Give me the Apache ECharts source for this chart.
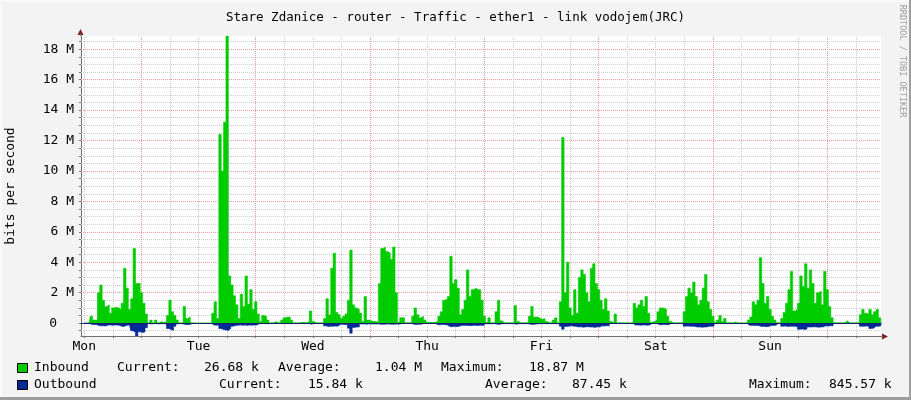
<!DOCTYPE html>
<html><head><meta charset="utf-8">
<script src="https://cdn.jsdelivr.net/npm/echarts@6/dist/echarts.min.js"></script>
<style>html,body{margin:0;padding:0;background:#f3f3f3}#c{width:911px;height:400px}</style>
</head><body><div id="c"></div>
<script>
// ---- data (30-minute steps, Mbit/s) ----
const days = ['Mon','Tue','Wed','Thu','Fri','Sat','Sun'];
const inMon = [0,0,0,0.45,0.2,0.2,2.0,2.5,1.5,1.1,1.2,0.65,
 1.0,1.05,1.0,0.9,1.3,3.6,2.3,0.9,1.6,4.9,2.6,2.6,
 2.0,1.3,0.6,0.02,0.2,0.02,0.2,0.02,0.1,0.02,0.1,0.5,
 1.5,0.75,0.5,0.2,0.02,0.02,1.1,0.3,0.4,0.02,0.01,0.01];
const inTue = [0.01,0.01,0.01,0.01,0.01,0.01,0.65,1.4,0.3,12.4,10.0,13.2,
 18.87,3.1,2.5,1.8,1.2,0.3,1.9,1.1,3.1,1.25,2.2,0.9,
 1.4,0.6,0.1,0.5,0.45,0.2,0.02,0.02,0.1,0.02,0.02,0.2,
 0.35,0.4,0.4,0.2,0.02,0.02,0.02,0.05,0.05,0.02,0.1,0.8];
const inWed = [0.1,0.02,0.02,0.02,0.02,0.3,1.6,0.55,3.6,4.6,0.7,0.55,
 0.3,0.45,0.6,1.5,4.8,1.2,1.0,0.9,0.65,0.1,1.75,0.2,
 0.15,0.1,0.1,0.05,2.6,4.9,5.0,4.7,4.6,4.2,5.0,2.0,
 0.05,0.35,0.35,0.03,0.03,0.03,0.45,1.0,0.55,0.35,0.45,0.2];
const inThu = [0.05,0.05,0.05,0.05,0.1,0.45,0.75,1.5,1.6,1.75,4.4,2.6,
 2.85,2.3,0.55,0.9,1.5,3.5,1.75,2.2,2.3,2.2,2.2,1.5,
 0.45,0.05,0.35,0.03,0.03,0.75,1.5,0.15,0.03,0.03,0.03,0.03,
 0.03,1.15,0.1,0.03,0.03,0.03,0.03,0.45,1.1,0.4,0.4,0.3];
const inFri = [0.25,0.3,0.1,0.03,0.03,0.2,0.35,0.03,1.4,12.2,2.0,4.0,
 1.0,0.5,2.2,0.65,3.0,3.5,3.2,2.0,1.4,3.6,3.9,2.6,
 2.2,1.5,0.9,1.6,0.8,0.1,0.02,0.6,0.02,0.02,0.02,0.02,
 0.02,0.02,0.02,1.3,1.0,1.2,1.5,1.1,1.75,0.65,0.05,0.1];
const inSat = [0.2,0.75,1.0,1.0,0.9,0.45,0.1,0.02,0.02,0.02,0.02,0.02,
 0.75,1.75,2.3,2.0,2.7,1.75,1.2,1.5,2.3,3.2,1.4,0.9,
 0.45,0.05,0.2,0.5,0.1,0.3,0.03,0.03,0.03,0.08,0.02,0.02,
 0.02,0.02,0.02,0.2,0.4,1.4,1.2,1.5,4.3,2.6,1.3,1.75];
const inSun = [0.9,0.45,0.2,0.03,0.03,0.3,0.7,1.3,2.2,3.4,0.8,0.9,
 1.3,3.1,2.4,3.9,2.3,3.5,2.6,1.3,2.0,2.1,1.2,3.4,
 2.2,1.1,0.35,0.02,0.02,0.02,0.02,0.02,0.15,0.02,0.02,0.02,
 0.02,0.02,0.55,0.9,0.65,0.6,0.9,0.55,0.75,0.9,0.35,0.027];

const outMon = [0,0,0,0.08,0.1,0.09,0.15,0.18,0.17,0.19,0.13,0.12,
 0.14,0.12,0.13,0.15,0.22,0.2,0.14,0.12,0.5,0.62,0.8456,0.57,
 0.62,0.58,0.3,0.04,0.05,0.03,0.04,0.05,0.03,0.04,0.06,0.35,
 0.42,0.48,0.2,0.04,0.03,0.05,0.09,0.1,0.08,0.02,0.02,0.02];
const outTue = [0.02,0.02,0.02,0.02,0.02,0.03,0.12,0.14,0.13,0.35,0.42,0.45,
 0.48,0.36,0.2,0.16,0.14,0.12,0.14,0.13,0.15,0.12,0.14,0.12,
 0.13,0.04,0.03,0.03,0.04,0.03,0.02,0.02,0.03,0.02,0.02,0.03,
 0.04,0.03,0.03,0.03,0.02,0.02,0.02,0.03,0.03,0.02,0.03,0.07];
const outWed = [0.02,0.02,0.02,0.02,0.02,0.18,0.22,0.2,0.21,0.19,0.2,0.09,
 0.08,0.1,0.09,0.33,0.66,0.28,0.25,0.26,0.06,0.05,0.07,0.05,
 0.06,0.05,0.06,0.05,0.07,0.08,0.07,0.06,0.07,0.08,0.07,0.06,
 0.07,0.02,0.02,0.02,0.02,0.02,0.08,0.09,0.07,0.08,0.02,0.02];
const outThu = [0.02,0.02,0.02,0.02,0.1,0.11,0.09,0.1,0.12,0.22,0.24,0.21,
 0.23,0.2,0.15,0.14,0.16,0.15,0.17,0.14,0.15,0.16,0.14,0.15,
 0.04,0.04,0.05,0.03,0.04,0.08,0.08,0.04,0.03,0.04,0.03,0.04,
 0.04,0.08,0.04,0.03,0.04,0.03,0.04,0.08,0.09,0.07,0.04,0.04];
const outFri = [0.04,0.03,0.04,0.04,0.03,0.04,0.04,0.04,0.2,0.4,0.22,0.2,
 0.18,0.2,0.21,0.25,0.24,0.27,0.25,0.23,0.26,0.25,0.28,0.24,
 0.25,0.18,0.19,0.17,0.18,0.02,0.02,0.02,0.02,0.02,0.02,0.02,
 0.02,0.02,0.02,0.13,0.12,0.14,0.13,0.12,0.14,0.12,0.02,0.02];
const outSat = [0.02,0.1,0.11,0.09,0.1,0.1,0.02,0.02,0.02,0.02,0.02,0.02,
 0.2,0.19,0.21,0.2,0.22,0.26,0.25,0.27,0.26,0.25,0.2,0.21,
 0.19,0.03,0.03,0.03,0.03,0.03,0.03,0.03,0.03,0.03,0.03,0.03,
 0.03,0.03,0.03,0.15,0.14,0.16,0.15,0.17,0.22,0.21,0.23,0.22];
const outSun = [0.15,0.16,0.14,0.02,0.02,0.2,0.19,0.22,0.2,0.21,0.2,0.23,
 0.4,0.38,0.42,0.39,0.25,0.26,0.24,0.25,0.27,0.25,0.24,0.18,
 0.19,0.17,0.18,0.02,0.02,0.02,0.02,0.02,0.02,0.02,0.02,0.02,
 0.02,0.02,0.2,0.21,0.19,0.2,0.35,0.33,0.2,0.21,0.19,0.016];

const yLabelValuesM = [2,4,6,8,10,12,14,16,18];
const yZeroLabel = '0';
const yMaxM = 18.87, yMinM = -0.84557;
const titleText = 'Stare Zdanice - router - Traffic - ether1 - link vodojem(JRC)';
const yName = 'bits per second';
const sideText = 'RRDTOOL / TOBI OETIKER';
const legendIn = ['Inbound','Current:','26.68 k','Average:','1.04 M','Maximum:','18.87 M'];
const legendOut = ['Outbound','Current:','15.84 k','Average:','87.45 k','Maximum:','845.57 k'];

// ---- build ----
const FONT = "'DejaVu Sans Mono', monospace";
const inbound = [].concat(inMon,inTue,inWed,inThu,inFri,inSat,inSun);
const outbound = [].concat(outMon,outTue,outWed,outThu,outFri,outSat,outSun);
const inData = inbound.map((v,i)=>[i*0.5, v*1e6]);
const outData = outbound.map((v,i)=>[i*0.5, -v*1e6]);

const MINOR = '#cdcdcd', MAJOR = '#eb9a9a';
const gridLines = [];
for (let k=-1; k*0.5 < yMaxM; k++) {
  const v = k*0.5;
  if (v === 0) continue;
  const major = (k % 4 === 0);
  gridLines.push({yAxis: v*1e6, lineStyle:{color: major ? MAJOR : MINOR, type:[1,1], width:1}});
}
for (let h=0; h<167; h+=6) {
  const major = (h % 24 === 12);
  gridLines.push({xAxis: h, lineStyle:{color: major ? MAJOR : MINOR, type:[1,1], width:1}});
}
const yTickVals = [];
for (let k=-1; k*0.5 < yMaxM; k++) yTickVals.push(k*0.5e6);
const xTickVals = [];
for (let h=0; h<167; h+=6) xTickVals.push(h);

const chart = echarts.init(document.getElementById('c'), null, {renderer:'canvas'});

const legendX1 = [34,117,204,278,375,441,529];
const legendX2 = [34,219,308,485,572,749,829];
const gElems = [
  {type:'rect', shape:{x:0,y:0,width:911,height:2}, style:{fill:'#fafafa'}, z:100},
  {type:'rect', shape:{x:0,y:0,width:2,height:400}, style:{fill:'#fafafa'}, z:100},
  {type:'rect', shape:{x:909,y:0,width:2,height:400}, style:{fill:'#9e9e9e'}, z:100},
  {type:'rect', shape:{x:0,y:397,width:911,height:3}, style:{fill:'#9e9e9e'}, z:100},
  {type:'polygon', shape:{points:[[80.5,29],[77.5,35],[83.5,35]]}, style:{fill:'#801f1f'}, z:100},
  {type:'line', shape:{x1:80.5,y1:34,x2:80.5,y2:36}, style:{stroke:'#707070',lineWidth:1}, z:100},
  {type:'polygon', shape:{points:[[888,336.5],[882,333.5],[882,339.5]]}, style:{fill:'#801f1f'}, z:100},
  {type:'line', shape:{x1:881,y1:336.5,x2:883,y2:336.5}, style:{stroke:'#707070',lineWidth:1}, z:100},
  {type:'text', x:10.5, y:186, rotation:Math.PI/2, style:{text:yName, font:'13px '+FONT, fill:'#000', textAlign:'center', textVerticalAlign:'middle'}, z:100},
  {type:'text', x:902.5, y:61, rotation:-Math.PI/2, style:{text:sideText, font:'8.5px '+FONT, fill:'#a0a0a0', textAlign:'center', textVerticalAlign:'middle'}, z:100},
  {type:'rect', shape:{x:17.5,y:363.5,width:10,height:9}, style:{fill:'#00cc00', stroke:'#000', lineWidth:1}, z:100},
  {type:'rect', shape:{x:17.5,y:380.5,width:10,height:9}, style:{fill:'#002a97', stroke:'#000', lineWidth:1}, z:100}
];
legendIn.forEach((t,i)=>gElems.push({type:'text', x:legendX1[i], y:368, style:{text:t, font:'13px '+FONT, fill:'#000', textAlign:'left', textVerticalAlign:'middle'}, z:100}));
legendOut.forEach((t,i)=>gElems.push({type:'text', x:legendX2[i], y:385, style:{text:t, font:'13px '+FONT, fill:'#000', textAlign:'left', textVerticalAlign:'middle'}, z:100}));

chart.setOption({
  animation:false,
  backgroundColor:'#f3f3f3',
  title:{text:titleText, left:'center', top:6, textStyle:{fontFamily:FONT, fontSize:12.5, fontWeight:'normal', color:'#000'}},
  grid:{left:81, top:36, width:800, height:300, show:true, backgroundColor:'#ffffff', borderWidth:0},
  xAxis:{type:'value', min:-0.69, max:167.3,
    axisLine:{show:true, onZero:false, lineStyle:{color:'#707070', width:1}},
    axisTick:{show:true, customValues:xTickVals, length:2, lineStyle:{color:'#707070'}},
    axisLabel:{customValues:days.map((d,i)=>i*24), formatter:(v)=>days[Math.round(v/24)], fontFamily:FONT, fontSize:13, color:'#000', margin:4},
    splitLine:{show:false}},
  yAxis:{type:'value', min:yMinM*1e6, max:yMaxM*1e6,
    axisLine:{show:true, onZero:false, lineStyle:{color:'#707070', width:1}},
    axisTick:{show:true, customValues:yTickVals, length:2, lineStyle:{color:'#707070'}},
    axisLabel:{customValues:yLabelValuesM.map(v=>v*1e6),
      formatter:(v)=> Math.round(v/1e6)+' M',
      fontFamily:FONT, fontSize:13, color:'#000', margin:7},
    splitLine:{show:false}},
  graphic:{elements:gElems},
  series:[
    {type:'line', data:[[-0.69,0]], z:1, silent:true, showSymbol:false, lineStyle:{width:0, opacity:0},
      markLine:{silent:true, z:1, animation:false, symbol:['none','none'], label:{show:false}, data:gridLines}},
    {name:'Inbound', type:'line', data:inData, step:'middle', showSymbol:false, z:3,
      lineStyle:{width:0.6, color:'#00cc00'}, itemStyle:{color:'#00cc00'}, areaStyle:{color:'#00cc00', opacity:1}},
    {name:'Outbound', type:'line', data:outData, step:'middle', showSymbol:false, z:3,
      lineStyle:{width:0.6, color:'#002a97'}, itemStyle:{color:'#002a97'}, areaStyle:{color:'#002a97', opacity:1},
      markLine:{silent:true, z:6, animation:false, symbol:['none','none'], label:{show:false},
        data:[{yAxis:0, lineStyle:{color:'#14206e', type:'solid', width:1.2}}]}}
  ]
});
// zero label: aligned with the number column of the other tick labels (rrdtool style)
const zeroY = chart.convertToPixel({yAxisIndex:0}, 0);
gElems.push({type:'text', x:57, y:zeroY, style:{text:yZeroLabel, font:'13px '+FONT, fill:'#000', textAlign:'right', textVerticalAlign:'middle'}, z:100});
chart.setOption({graphic:{elements:gElems}});
</script></body></html>
